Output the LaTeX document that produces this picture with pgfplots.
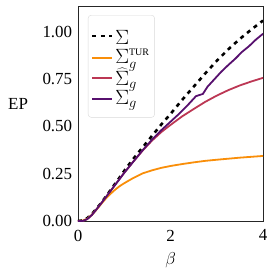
\documentclass[border=0pt]{standalone}
\usepackage{pgfplots}
\pgfplotsset{compat=1.18}
\usepackage{fontspec}
\setmainfont{Liberation Serif}
\definecolor{cTUR}{HTML}{F98E09}
\definecolor{cHat}{HTML}{BC3754}
\definecolor{cG}{HTML}{57106E}
\begin{document}
\fontsize{17}{20}\selectfont
\begin{tikzpicture}
\begin{axis}[
 width=185bp, height=215bp, scale only axis,
 xmin=0, xmax=4, ymin=0, ymax=1.137,
 xtick={0,2,4}, ytick={0,0.25,0.5,0.75,1},
 yticklabel style={/pgf/number format/.cd, fixed, fixed zerofill, precision=2},
 /pgf/number format/assume math mode=true,
 major tick length=0,
 tick label style={font=\fontsize{17}{20}\selectfont},
 xticklabel style={yshift=-3bp},
 axis line style={black!85, line width=0.8bp},
 xlabel={$\beta$},
 xlabel style={font=\fontsize{19}{20}\selectfont, yshift=0bp},
 ylabel={EP},
 ylabel style={at={(rel axis cs:-0.324,0.544)}, rotate=-90, anchor=center, font=\fontsize{17}{20}\selectfont},
 legend style={at={(0.054,0.958)}, anchor=north west, draw=black!15, fill=white, rounded corners=3bp,
   font=\fontsize{20}{22}\selectfont, row sep=-1.5bp, inner ysep=8bp, inner xsep=3bp},
 legend cell align=left,
 legend image post style={xscale=1.15},
]
\addlegendimage{color=black, line width=2.6bp, dash pattern=on 4bp off 4.5bp}
\addlegendentry{\rule{0pt}{19bp}$\Sigma$}
\addlegendimage{color=cTUR, line width=2.1bp}
\addlegendentry{$\Sigma_g^{\mathrm{\scriptscriptstyle TUR}}$}
\addlegendimage{color=cHat, line width=2.1bp}
\addlegendentry{$\widehat{\Sigma}_g$}
\addlegendimage{color=cG, line width=2.1bp}
\addlegendentry{$\Sigma_g$}
\addplot[forget plot, color=black, line width=2.6bp, dash pattern=on 4bp off 4.5bp] coordinates {
(0,0) (0.1,0.003) (0.2,0.015) (0.3,0.037) (0.4,0.065) (0.5,0.095) (0.6,0.128) (0.7,0.162)
(0.8,0.196) (0.9,0.23) (1.0,0.265) (1.2,0.33) (1.4,0.39) (1.6,0.45) (1.8,0.51) (2.0,0.566)
(2.25,0.64) (2.5,0.71) (2.75,0.78) (3.0,0.847) (3.25,0.908) (3.5,0.963) (3.75,1.013) (4.0,1.06)};
\addplot[forget plot, color=cTUR, line width=1.8bp] coordinates {
(0,0) (0.1,0.002) (0.2,0.012) (0.3,0.033) (0.4,0.06) (0.5,0.09) (0.6,0.118) (0.7,0.143)
(0.8,0.165) (0.9,0.184) (1.0,0.2) (1.2,0.228) (1.4,0.252) (1.6,0.268) (1.8,0.281) (2.0,0.291)
(2.25,0.301) (2.5,0.31) (2.75,0.318) (3.0,0.324) (3.5,0.335) (4.0,0.344)};
\addplot[forget plot, color=cHat, line width=1.8bp] coordinates {
(0,0) (0.1,0.0) (0.2,0.01) (0.3,0.032) (0.4,0.062) (0.5,0.093) (0.6,0.125) (0.8,0.19)
(1.0,0.255) (1.2,0.315) (1.4,0.373) (1.6,0.425) (1.8,0.47) (2.0,0.508) (2.25,0.553)
(2.5,0.592) (2.75,0.63) (3.0,0.663) (3.25,0.692) (3.5,0.717) (3.75,0.738) (4.0,0.757)};
\addplot[forget plot, color=cG, line width=1.8bp] coordinates {
(0,0) (0.1,0.0) (0.2,0.01) (0.3,0.032) (0.4,0.062) (0.5,0.093) (0.6,0.125) (0.8,0.19)
(1.0,0.255) (1.2,0.315) (1.4,0.375) (1.6,0.43) (1.8,0.48) (2.0,0.525) (2.2,0.57) (2.4,0.62)
(2.55,0.66) (2.7,0.672) (2.8,0.71) (2.95,0.75) (3.1,0.79) (3.25,0.825) (3.4,0.858)
(3.55,0.895) (3.7,0.925) (3.85,0.96) (4.0,0.99)};
\end{axis}
\path ([xshift=-78bp,yshift=-54bp]current axis.south west) rectangle ([xshift=12bp,yshift=6bp]current axis.north east);
\end{tikzpicture}
\end{document}
